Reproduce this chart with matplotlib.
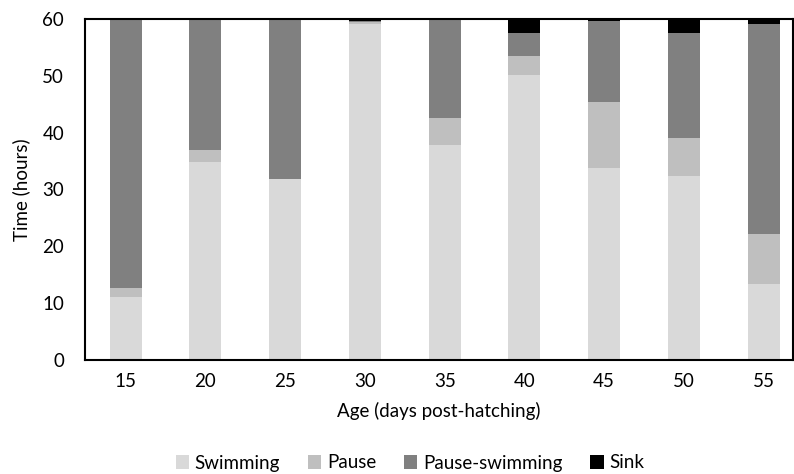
import numpy as np
import matplotlib.pyplot as plt

plt.rcParams['font.family'] = ['Lato', 'DejaVu Sans']

# data
ages = ["15", "20", "25", "30", "35", "40", "45", "50", "55"]
swimming = [11.1, 34.9, 31.8, 59.2, 37.8, 50.1, 33.7, 32.4, 13.4]
pause = [1.6, 2.0, 0.0, 0.3, 4.8, 3.4, 11.7, 6.6, 8.8]
pause_swimming = [47.3, 23.1, 28.2, 0.1, 17.4, 4.0, 14.3, 18.5, 36.9]
sink = [0.0, 0.0, 0.0, 0.4, 0.0, 2.5, 0.3, 2.5, 0.9]

series = [("Swimming", swimming, "#d9d9d9"),
          ("Pause", pause, "#bfbfbf"),
          ("Pause-swimming", pause_swimming, "#808080"),
          ("Sink", sink, "#000000")]

fig = plt.figure(figsize=(7.94, 4.74), dpi=100)
ax = fig.add_axes([0.107, 0.2405, 0.892, 0.7195])

x = np.arange(len(ages))
bottom = np.zeros(len(ages))
for name, vals, col in series:
    ax.bar(x, vals, width=0.4, bottom=bottom, color=col, label=name, linewidth=0)
    bottom += np.array(vals)

ax.set_xlim(-0.51, 8.37)
ax.set_ylim(0, 60)
ax.set_yticks(range(0, 61, 10))
ax.set_xticks(x)
ax.set_xticklabels(ages)
ax.tick_params(axis='y', length=0, labelsize=13.5, pad=15)
ax.tick_params(axis='x', length=0, labelsize=13.5, pad=9)
for s in ax.spines.values():
    s.set_linewidth(1.5)
    s.set_color("black")

ax.set_ylabel("Time (hours)", fontsize=13.5, labelpad=9)
ax.set_xlabel("Age (days post-hatching)", fontsize=13.5, labelpad=9)

fig.legend(loc="center", bbox_to_anchor=(410 / 794, 1 - 463 / 474), ncol=4,
           frameon=False, fontsize=13.5, handlelength=0.7, handleheight=0.7,
           handletextpad=0.3, columnspacing=1.5)

fig.savefig("out.png", dpi=100)
